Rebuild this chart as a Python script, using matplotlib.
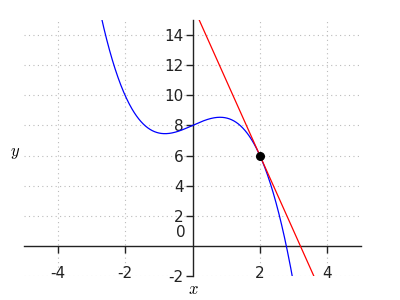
import numpy as np
import matplotlib
matplotlib.use("Agg")
import matplotlib.pyplot as plt

# cubic f(x) = -x^3/2 + x + 8
coeffs = [-0.5, 0.0, 1.0, 8.0]
point = (2.0, 6.0)       # tangent point
slope = -5.0             # tangent slope
x_range = (-5, 5)
y_range = (-2, 15)
xticks = [-4, -2, 2, 4]
yticks = [-2, 2, 4, 6, 8, 10, 12, 14]

plt.rcParams['mathtext.fontset'] = 'cm'
plt.rcParams['axes.unicode_minus'] = False

fig = plt.figure(figsize=(4, 3), dpi=100)
ax = fig.add_axes([0.06, 0.08, 0.8425, 0.853])

xs = np.linspace(x_range[0], x_range[1], 600)
ax.plot(xs, np.polyval(coeffs, xs), color='blue', lw=0.9, zorder=3)
ax.plot(xs, point[1] + slope * (xs - point[0]), color='red', lw=0.9, zorder=3)
ax.plot([point[0]], [point[1]], 'o', color='black', ms=5.5, zorder=4)

ax.set_xlim(*x_range)
ax.set_ylim(*y_range)

# axes cross at the origin
for s in ['top', 'right']:
    ax.spines[s].set_visible(False)
ax.spines['left'].set_position(('data', 0))
ax.spines['bottom'].set_position(('data', 0))
for s in ['left', 'bottom']:
    ax.spines[s].set_color('#222222')
    ax.spines[s].set_linewidth(1.0)

ax.set_xticks(xticks)
ax.set_yticks(yticks)
ax.set_xticklabels([str(t) for t in xticks])
ax.set_yticklabels([str(t) for t in yticks])
ax.tick_params(axis='x', direction='out', length=5, width=1, pad=9.5,
               labelsize=11, colors='#222222')
ax.tick_params(axis='y', direction='out', length=5, width=1, pad=1.5,
               labelsize=11, colors='#222222')

ax.grid(True, color='#bbbbbb', linestyle=(0, (1, 3)), lw=0.8)
ax.set_axisbelow(True)

ax.text(-0.35, 0.9, '0', ha='center', va='center', fontsize=11, color='#222222')
fig.text(0.037, 0.493, '$y$', ha='center', va='center', fontsize=12)
fig.text(0.483, 0.037, '$x$', ha='center', va='center', fontsize=12)

fig.savefig('out.png', dpi=100)
